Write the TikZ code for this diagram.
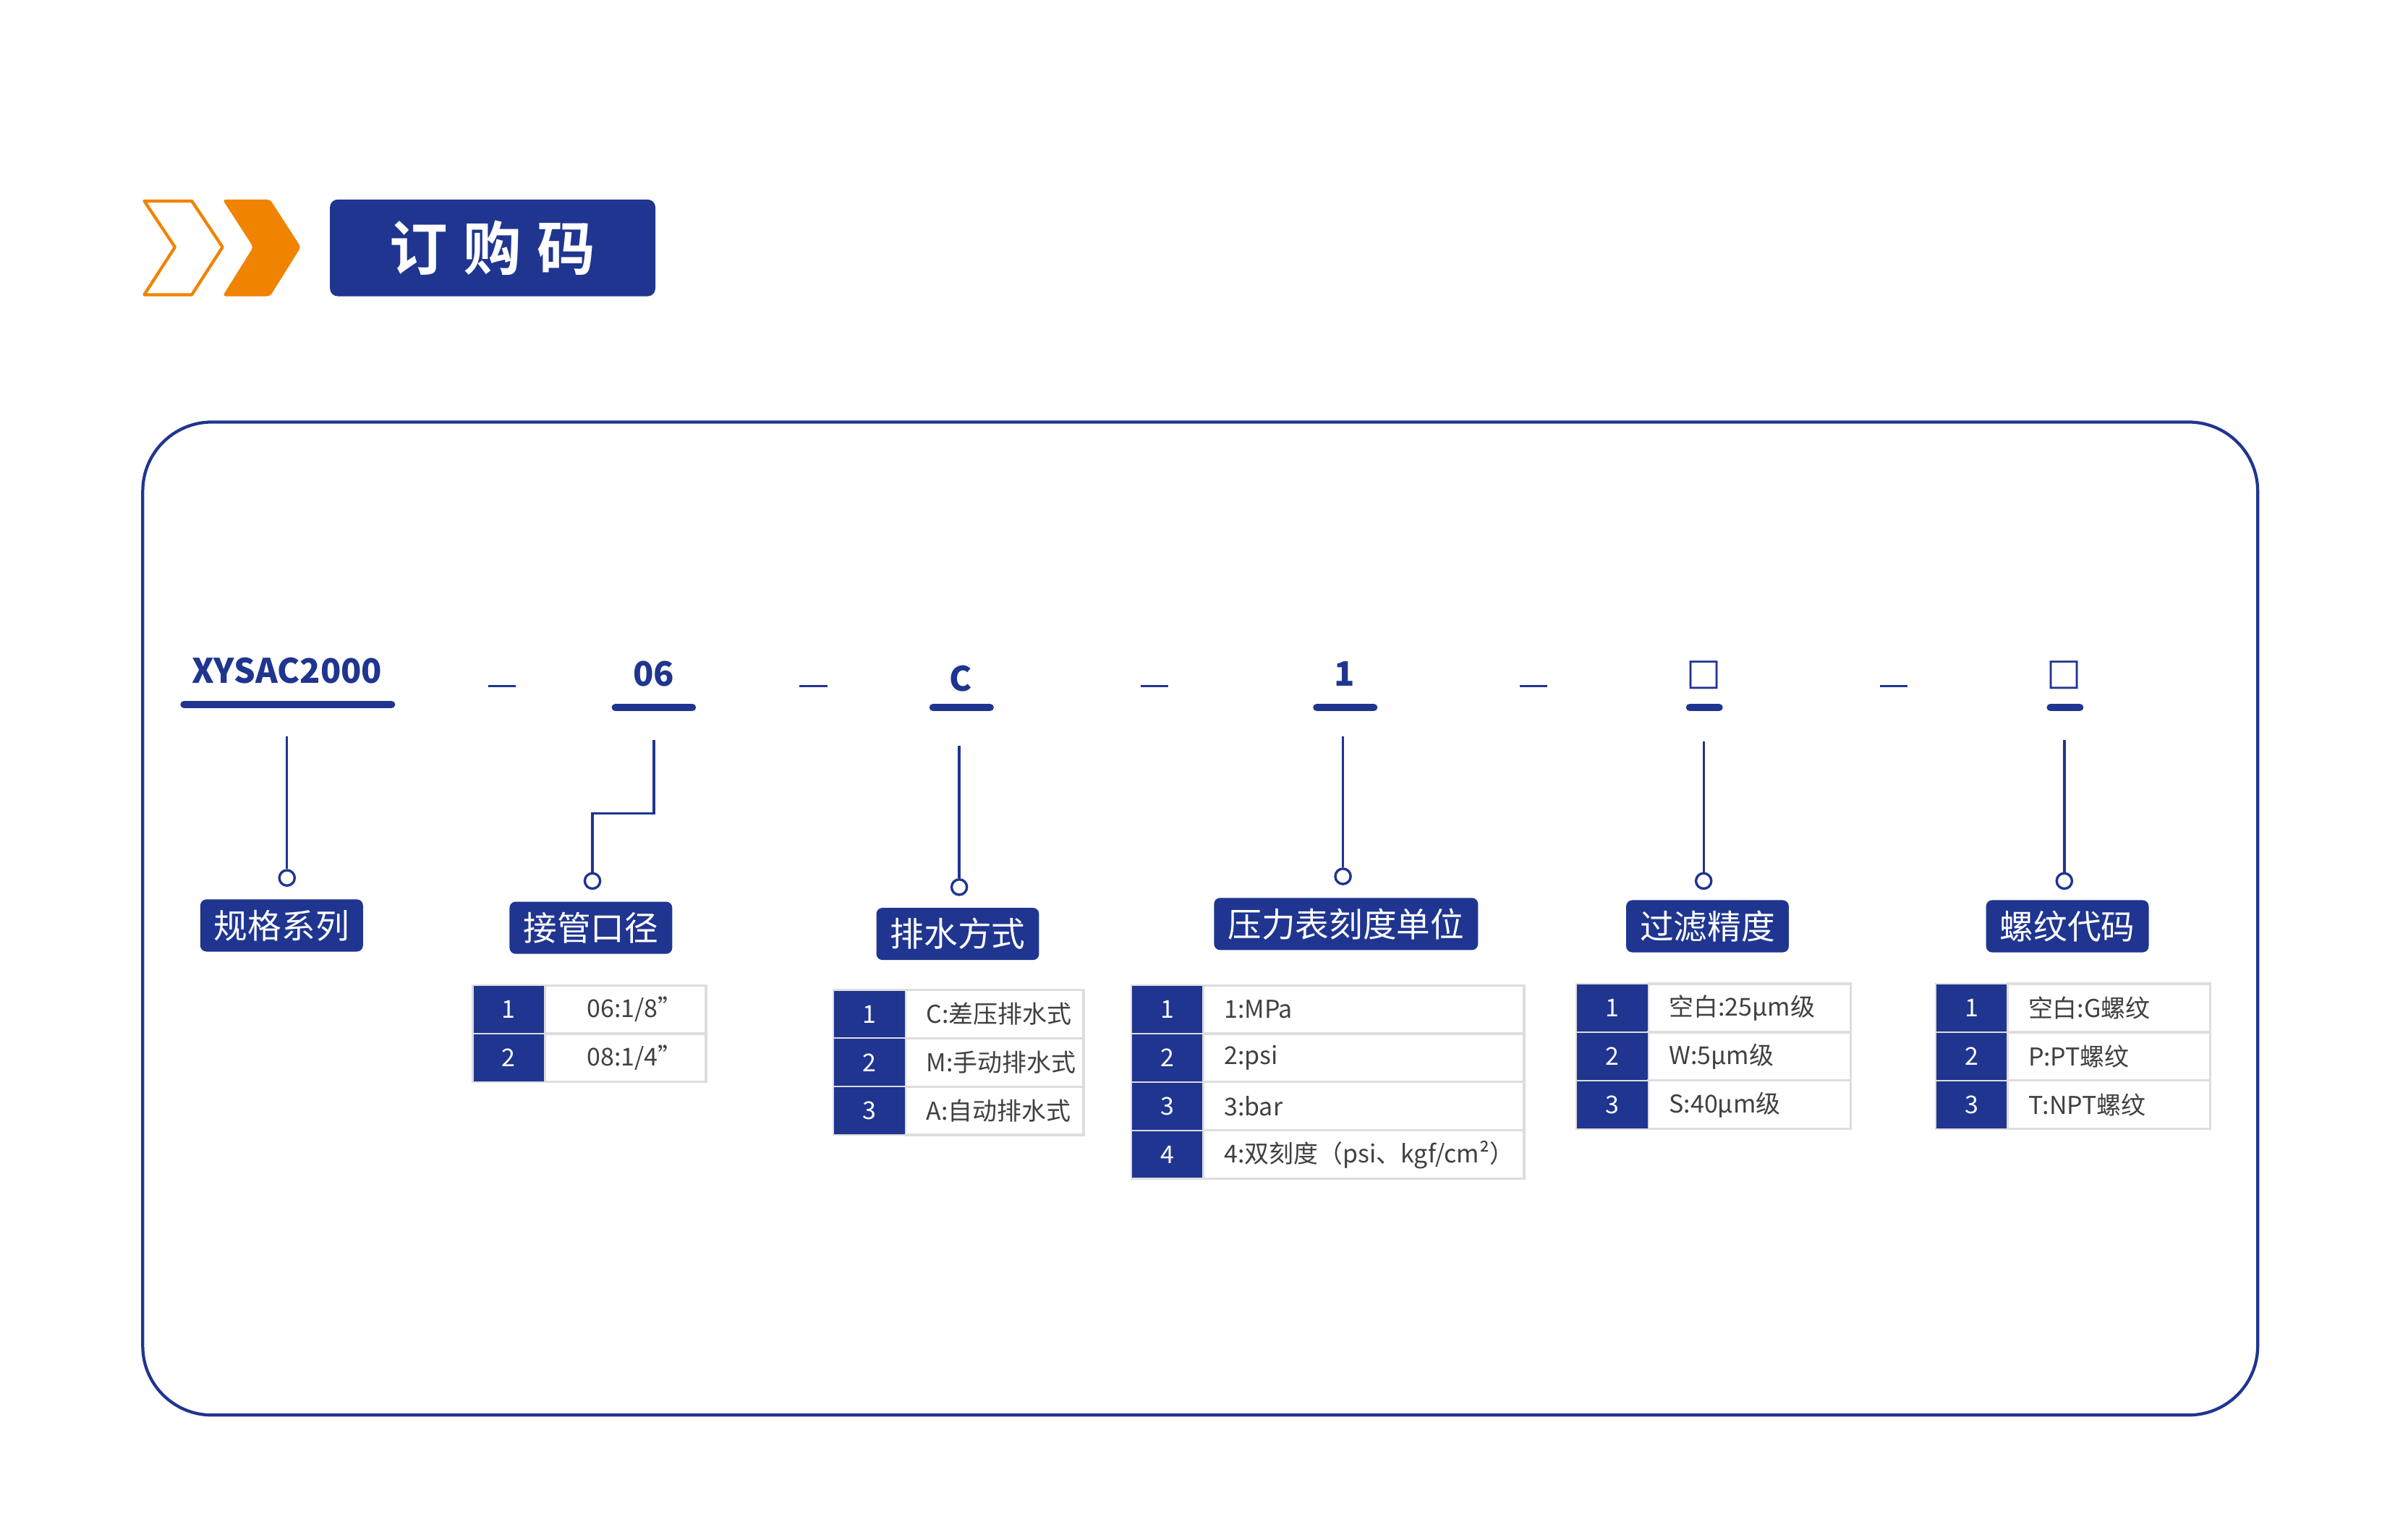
\documentclass[tikz,border=0pt]{standalone}
\usepackage{fontspec}
\setmainfont{Noto Sans CJK SC}
\newfontfamily\boldcjk{Noto Sans CJK SC Bold}
\newfontfamily\sym{DejaVu Sans}
\definecolor{navy}{HTML}{1F3590}
\definecolor{orng}{HTML}{F08300}
\definecolor{cellgray}{HTML}{DDDDDD}
\tikzset{
 lbl/.style={fill=navy,rounded corners=4pt,text=white,font=\fontsize{22}{24}\selectfont,inner xsep=9pt,minimum height=34pt,inner ysep=0pt},
 code/.style={text=navy,font=\bfseries\fontsize{22}{24}\selectfont},
 uline/.style={navy,line width=5pt,line cap=round},
 conn/.style={navy,line width=1.6pt},
 dot/.style={circle,draw=navy,line width=1.6pt,minimum size=10pt,inner sep=0pt},
 dsh/.style={navy,line width=1.6pt},
 numc/.style={fill=navy,draw=cellgray,line width=1pt},
 txtc/.style={draw=cellgray,line width=1.5pt,fill=white},
 ctext/.style={font=\fontsize{16}{18}\selectfont,text=black!75,anchor=west},
 ntext/.style={font=\fontsize{16}{18}\selectfont,text=white}
}
\newcommand{\mytable}[5]{% x0, xnum, x1, ytop, list
 \foreach \t [count=\i] in {#5} {
  \pgfmathsetmacro{\ya}{#4+(\i-1)*31.5}
  \pgfmathsetmacro{\yb}{\ya+31.5}
  \draw[txtc] (#2,\ya) rectangle (#3,\yb);
  \draw[numc] (#1,\ya) rectangle (#2,\yb);
  \node[ntext] (n\i) at ({(#1+#2)/2},{(\ya+\yb)/2}) {\i};
  \node[ctext] (t\i) at ({#2+10},{(\ya+\yb)/2}) {\t};
 }
}
\begin{document}
\begin{tikzpicture}[x=1pt,y=-1pt]
\useasboundingbox (0,0) rectangle (1552,1003);
% header chevrons
\draw[orng,line width=2pt,line join=round] (94,131)--(125,131)--(145,161)--(125,192)--(94,192)--(114,161)--cycle;
\fill[orng,rounded corners=2pt] (145,130)--(176,130)--(196,161)--(176,193)--(145,193)--(165,161)--cycle;
\node[fill=navy,rounded corners=5pt,minimum width=212pt,minimum height=63pt,inner sep=0pt,text=white,font=\boldcjk\fontsize{38}{40}\selectfont] (hdr) at (321,161.5) {订\hspace{10pt}购\hspace{10pt}码};
% frame
\draw[navy,line width=2pt,rounded corners=45pt] (93,275) rectangle (1471,922);
% codes
\node[code] (c0) at (187,437) {XYSAC2000};
\node[code] (c1) at (426,439) {06};
\node[code] (c2) at (626,442) {C};
\node[code] (c3) at (876,439) {1};
\node[code,font=\sym\fontsize{24}{26}\selectfont] (c4) at (1110,440) {□};
\node[code,font=\sym\fontsize{24}{26}\selectfont] (c5) at (1345,440) {□};
\draw[uline] (120,459)--(255,459);
\draw[uline] (401,461)--(451,461);
\draw[uline] (608,461)--(645,461);
\draw[uline] (858,461)--(895,461);
\draw[uline] (1101,461)--(1120,461);
\draw[uline] (1336,461)--(1355,461);
\foreach \x in {318,521,743,990,1225} \draw[dsh] (\x,447)--(\x+18,447);
% connectors
\node[dot] (d0) at (187,572) {};
\node[dot] (d1) at (386,574) {};
\node[dot] (d2) at (625,578) {};
\node[dot] (d3) at (875,571) {};
\node[dot] (d4) at (1110,574) {};
\node[dot] (d5) at (1345,574) {};
\coordinate (s0) at (187,480); \coordinate (s1) at (426,482);
\coordinate (s2) at (625,486); \coordinate (s3) at (875,480);
\coordinate (s4) at (1110,483); \coordinate (s5) at (1345,482);
\draw[conn] (s0)--(d0.north);
\draw[conn] (s1)--(426,530)--(386,530)--(d1.north);
\draw[conn] (s2)--(d2.north);
\draw[conn] (s3)--(d3.north);
\draw[conn] (s4)--(d4.north);
\draw[conn] (s5)--(d5.north);
% labels
\node[lbl] (l0) at (183.5,603) {规格系列};
\node[lbl] (l1) at (385,604.5) {接管口径};
\node[lbl] (l2) at (624,608.5) {排水方式};
\node[lbl] (l3) at (877,602) {压力表刻度单位};
\node[lbl] (l4) at (1112.5,603.5) {过滤精度};
\node[lbl] (l5) at (1347,603.5) {螺纹代码};
% tables
\begin{scope}
\mytable{308}{355}{460}{642}{{\hspace{14pt}06:1/8"},{\hspace{14pt}08:1/4"}}
\end{scope}
\begin{scope}
\mytable{543}{590}{706}{645}{C:差压排水式,M:手动排水式,A:自动排水式}
\end{scope}
\begin{scope}
\mytable{737}{784}{993}{642}{1:MPa,2:psi,3:bar,{4:双刻度（psi、kgf/cm²）}}
\end{scope}
\begin{scope}
\mytable{1027}{1074}{1206}{641}{空白:25μm级,W:5μm级,S:40μm级}
\end{scope}
\begin{scope}
\mytable{1261}{1308}{1440}{641}{空白:G螺纹,P:PT螺纹,T:NPT螺纹}
\end{scope}
\end{tikzpicture}
\end{document}
